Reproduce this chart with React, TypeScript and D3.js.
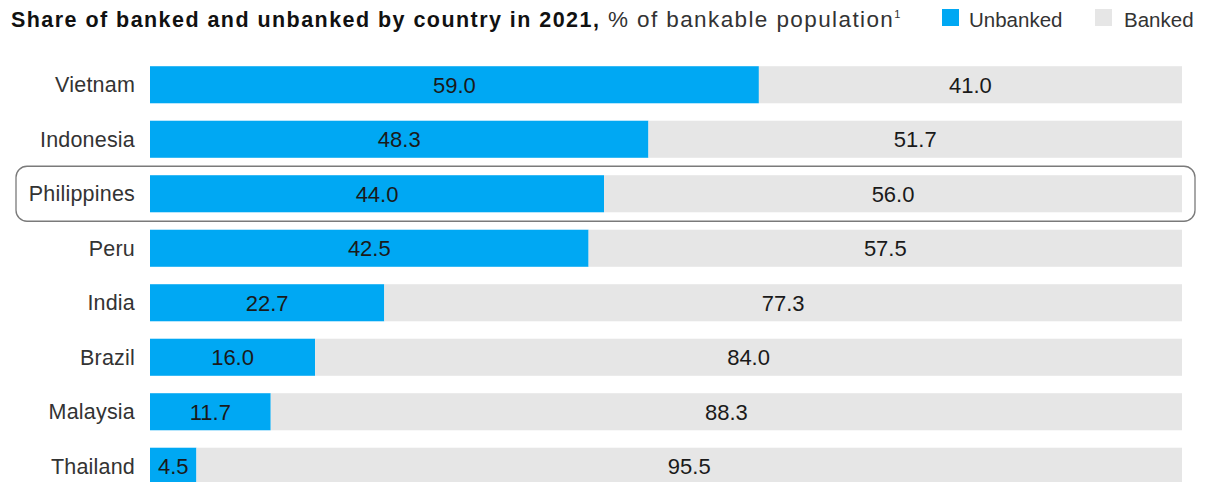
import React from "react";
import * as d3 from "d3";

const countries = ["Vietnam", "Indonesia", "Philippines", "Peru", "India", "Brazil", "Malaysia", "Thailand"];
const unbanked = [59.0, 48.3, 44.0, 42.5, 22.7, 16.0, 11.7, 4.5];
const banked = [41.0, 51.7, 56.0, 57.5, 77.3, 84.0, 88.3, 95.5];
const highlight = "Philippines";

const W = 1209, H = 482;
const FONT = "'Liberation Sans', Arial, sans-serif";
const BLUE = "#00A8F3";
const GRAY = "#E6E6E6";

export default function App() {
  const x = d3.scaleLinear().domain([0, 100]).range([150, 1182]);
  const y = d3.scaleBand().domain(countries).range([57.5, 493.5]).paddingInner(0.32).paddingOuter(0.16);
  const bw = y.bandwidth();
  return (
    <svg width={W} height={H} style={{ position: "absolute", left: 0, top: 0, background: "#fff" }} fontFamily={FONT}>
      <text x={11} y={27} fontSize={21.5} fill="#111">
        <tspan fontWeight="bold" letterSpacing={1.45}>Share of banked and unbanked by country in 2021,</tspan>
        <tspan fill="#333" fontSize={22.5} letterSpacing={1.4}> % of bankable population</tspan>
        <tspan fill="#333" fontSize={11} dy={-9}>1</tspan>
      </text>
      <rect x={942} y={9} width={17} height={17} fill={BLUE} />
      <text x={969} y={27} fontSize={20.5} fill="#333">Unbanked</text>
      <rect x={1095} y={9} width={17} height={17} fill={GRAY} />
      <text x={1124} y={27} fontSize={20.5} fill="#333">Banked</text>
      {countries.map((c, i) => {
        const yy = y(c)!;
        const cy = yy + bw / 2;
        return (
          <g key={c}>
            {c === highlight && (
              <rect x={16} y={cy - 27.5} width={1179} height={55} rx={11} fill="none" stroke="#7a7a7a" strokeWidth={1.3} />
            )}
            <rect x={x(0)} y={yy} width={x(unbanked[i]) - x(0)} height={bw} fill={BLUE} />
            <rect x={x(unbanked[i])} y={yy} width={x(100) - x(unbanked[i])} height={bw} fill={GRAY} />
            <text x={135} y={cy} dy="0.36em" textAnchor="end" fontSize={21.5} letterSpacing={0.2} fill="#333">{c}</text>
            <text x={(x(0) + x(unbanked[i])) / 2} y={cy} dy="0.36em" textAnchor="middle" fontSize={22} fill="#1a1a1a">{unbanked[i].toFixed(1)}</text>
            <text x={(x(unbanked[i]) + x(100)) / 2} y={cy} dy="0.36em" textAnchor="middle" fontSize={22} fill="#1a1a1a">{banked[i].toFixed(1)}</text>
          </g>
        );
      })}
    </svg>
  );
}
